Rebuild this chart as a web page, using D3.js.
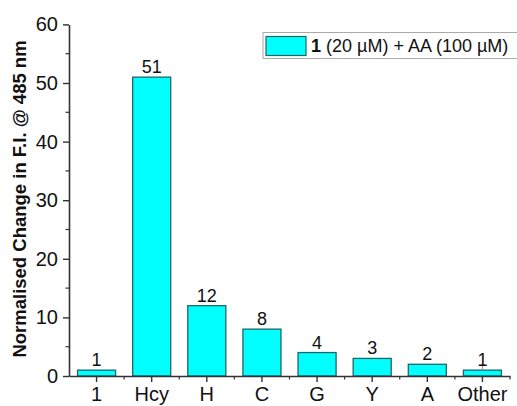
<!DOCTYPE html>
<html><head><meta charset="utf-8">
<script src="https://cdn.jsdelivr.net/npm/d3@7"></script>
<style>body{margin:0;background:#fff}svg{display:block}text{font-family:"Liberation Sans",Arial,sans-serif}</style>
</head><body>
<script>
const categories = ["1","Hcy","H","C","G","Y","A","Other"];
const values = [1,51,12,8,4,3,2,1];
const valueLabels = ["1","51","12","8","4","3","2","1"];
const errors = [0,0,0,0,0,0,0,0.8];
const yTicks = [0,10,20,30,40,50,60];
const yLabel = "Normalised Change in F.I. @ 485 nm";
const legendLabelBold = "1";
const legendLabelRest = " (20 µM) + AA (100 µM)";

const W=517,H=406;
const svg=d3.select("body").append("svg").attr("width",W).attr("height",H);
const x=d3.scaleBand().domain(categories).range([69,510]).paddingInner(0.31).paddingOuter(0.155);
const y=d3.scaleLinear().domain([0,60]).range([376,24.4]);
const axisColor="#333";
const FF="Liberation Sans, Arial, sans-serif";

// bars
svg.selectAll("rect.bar").data(values).join("rect").attr("class","bar")
 .attr("x",(d,i)=>x(categories[i])).attr("width",x.bandwidth())
 .attr("y",d=>y(d)).attr("height",d=>y(0)-y(d))
 .attr("fill","#00FFFF").attr("stroke","#1f6666").attr("stroke-width",1.3);

// error bars
errors.forEach((e,i)=>{ if(!e) return;
 const cx=x(categories[i])+x.bandwidth()/2;
 const g=svg.append("g").attr("stroke","#e07070").attr("stroke-width",1);
 g.append("line").attr("x1",cx).attr("x2",cx).attr("y1",y(values[i])).attr("y2",y(values[i]+e));
 g.append("line").attr("x1",cx-4).attr("x2",cx+4).attr("y1",y(values[i]+e)).attr("y2",y(values[i]+e));
});

// value labels
svg.selectAll("text.val").data(values).join("text").attr("class","val")
 .attr("x",(d,i)=>x(categories[i])+x.bandwidth()/2).attr("y",d=>y(d)-4)
 .attr("text-anchor","middle").attr("font-size",18).attr("fill","#111")
 .text((d,i)=>valueLabels[i]);

// y axis
const ya=svg.append("g").attr("transform","translate(69,0)")
 .call(d3.axisLeft(y).tickValues(yTicks).tickSize(6).tickSizeOuter(0).tickPadding(5));
ya.selectAll("text").attr("font-size",20).attr("fill","#111").style("font-family",FF);
ya.selectAll("line").attr("stroke",axisColor).attr("stroke-width",1.4);
ya.select(".domain").attr("stroke",axisColor).attr("stroke-width",1.6);
// y minor ticks
svg.append("g").selectAll("line").data(yTicks.slice(0,-1).map(v=>v+5)).join("line")
 .attr("x1",69).attr("x2",65.5).attr("y1",d=>y(d)).attr("y2",d=>y(d)).attr("stroke",axisColor).attr("stroke-width",1.2);

// x axis
const xa=svg.append("g").attr("transform","translate(0,376)")
 .call(d3.axisBottom(x).tickSize(6).tickSizeOuter(0).tickPadding(5));
xa.selectAll("text").attr("font-size",20).attr("fill","#111").style("font-family",FF);
xa.selectAll("line").attr("stroke",axisColor).attr("stroke-width",1.4);
xa.select(".domain").attr("stroke",axisColor).attr("stroke-width",1.6);
// x minor ticks at band boundaries
const bounds=categories.slice(1).map(c=>x(c)-x.step()*x.paddingInner()/2);
bounds.push(510);
svg.append("g").selectAll("line").data(bounds).join("line")
 .attr("x1",d=>d).attr("x2",d=>d).attr("y1",376).attr("y2",379.5).attr("stroke",axisColor).attr("stroke-width",1.2);

// y label
svg.append("text").attr("transform","translate(26,199) rotate(-90)")
 .attr("text-anchor","middle").attr("font-size",18.5).attr("font-weight","bold").attr("fill","#111")
 .text(yLabel);

// legend
const lg=svg.append("g");
lg.append("rect").attr("x",263).attr("y",32.5).attr("width",260).attr("height",26)
 .attr("fill","#fff").attr("stroke","#aaa").attr("stroke-width",1);
lg.append("rect").attr("x",266).attr("y",36.5).attr("width",40).attr("height",19)
 .attr("fill","#00FFFF").attr("stroke","#1f6666").attr("stroke-width",1.2);
const lt=lg.append("text").attr("x",311).attr("y",52).attr("font-size",18).attr("fill","#111");
lt.append("tspan").attr("font-weight","bold").text(legendLabelBold);
lt.append("tspan").text(legendLabelRest);
</script>
</body></html>
